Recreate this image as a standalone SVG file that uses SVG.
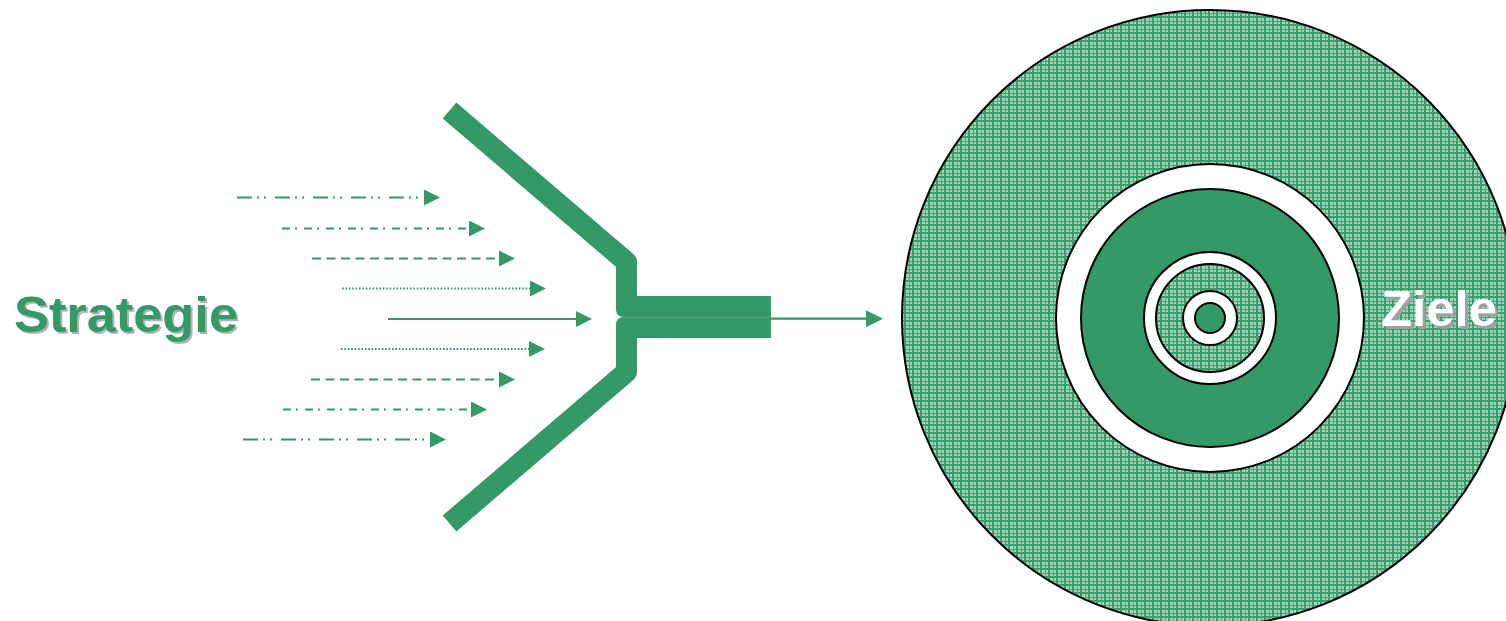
<svg xmlns="http://www.w3.org/2000/svg" width="1506" height="621" viewBox="0 0 1506 621">
<style>
.g{fill:#339966}
.ln{stroke:#339966;stroke-width:2.2;fill:none}
.ring{stroke:#000;stroke-width:2}
.lbl{font-family:"Liberation Sans",Arial,sans-serif;font-weight:bold;font-size:50px}
</style>
<defs>
<pattern id="plaid" width="8" height="8" patternUnits="userSpaceOnUse">
<rect width="8" height="8" fill="#a3d3b9"/>
<rect x="0" y="0" width="8" height="2" fill="#3a9c6b"/>
<rect x="0" y="5" width="8" height="1" fill="#4aa57a"/>
<rect x="0" y="0" width="2" height="8" fill="#3a9c6b"/>
<rect x="5" y="0" width="1" height="8" fill="#4aa57a"/>
</pattern>
<marker id="ah" markerUnits="userSpaceOnUse" markerWidth="16" markerHeight="16" viewBox="0 0 15 15" refX="0" refY="7.5" orient="auto">
<path d="M0,0 L15,7.5 L0,15 Z" fill="#339966"/>
</marker>
<marker id="ah2" markerUnits="userSpaceOnUse" markerWidth="17" markerHeight="17" viewBox="0 0 16 16" refX="0" refY="8" orient="auto">
<path d="M0,0 L16,8 L0,16 Z" fill="#339966"/>
</marker>
</defs>
<g id="strategie-label">
<text class="lbl" x="16" y="334" fill="#b3b3b3" textLength="224" lengthAdjust="spacingAndGlyphs">Strategie</text>
<text class="lbl" x="14" y="332" fill="#339966" textLength="224" lengthAdjust="spacingAndGlyphs">Strategie</text>
</g>
<g id="connectors">
<line class="ln" x1="237" y1="197.5" x2="424" y2="197.5" stroke-dasharray="15 5 2 5 2 9" marker-end="url(#ah)"/>
<line class="ln" x1="282" y1="228.5" x2="469" y2="228.5" stroke-dasharray="8 5 2 7" marker-end="url(#ah)"/>
<line class="ln" x1="312" y1="258.5" x2="499" y2="258.5" stroke-dasharray="9 5.5" marker-end="url(#ah)"/>
<line class="ln" x1="342" y1="288.5" x2="530" y2="288.5" stroke-width="1.6" stroke-dasharray="1.6 1.8" marker-end="url(#ah)"/>
<line class="ln" x1="388" y1="319" x2="576" y2="319" stroke-width="1.6" marker-end="url(#ah)"/>
<line class="ln" x1="341" y1="349" x2="529" y2="349" stroke-width="1.6" stroke-dasharray="1.6 1.8" marker-end="url(#ah)"/>
<line class="ln" x1="311" y1="379.5" x2="499" y2="379.5" stroke-dasharray="9 5.5" marker-end="url(#ah)"/>
<line class="ln" x1="283" y1="409.5" x2="471" y2="409.5" stroke-dasharray="8 5 2 7" marker-end="url(#ah)"/>
<line class="ln" x1="243" y1="439.5" x2="430" y2="439.5" stroke-dasharray="15 5 2 5 2 9" marker-end="url(#ah)"/>
<line class="ln" x1="770" y1="318.7" x2="866" y2="318.7" stroke-width="4" marker-end="url(#ah2)"/>
</g>
<g id="funnel">
<polyline points="449.5,110.5 626.5,262 626.5,300" fill="none" stroke="#339966" stroke-width="21" stroke-linejoin="round"/>
<path class="g" d="M616,262 L637,262 L637,296 L771,296 L771,317 L624,317 Q616,317 616,309 Z"/>
<polyline points="449.5,523.5 626.5,372 626.5,334" fill="none" stroke="#339966" stroke-width="21" stroke-linejoin="round"/>
<path class="g" d="M616,372 L637,372 L637,338 L771,338 L771,317 L624,317 Q616,317 616,325 Z"/>
<line x1="624" y1="317.2" x2="771" y2="317.2" stroke="#6fb892" stroke-width="0.6"/>
</g>
<g id="target">
<circle class="ring" cx="1210" cy="318" r="308" fill="url(#plaid)"/>
<circle class="ring" cx="1210" cy="318" r="154" fill="#ffffff"/>
<circle class="ring" cx="1210" cy="318" r="129" fill="#339966"/>
<circle class="ring" cx="1210" cy="318" r="66" fill="#ffffff"/>
<circle class="ring" cx="1210" cy="318" r="54" fill="url(#plaid)"/>
<circle class="ring" cx="1210" cy="318" r="27" fill="#ffffff"/>
<circle class="ring" cx="1210" cy="318" r="15" fill="#339966"/>
</g>
<g id="ziele-label">
<text class="lbl" x="1384" y="329" fill="#a0a0a0" textLength="116" lengthAdjust="spacingAndGlyphs">Ziele</text>
<text class="lbl" x="1381" y="326" fill="#ffffff" textLength="116" lengthAdjust="spacingAndGlyphs">Ziele</text>
</g>
</svg>
